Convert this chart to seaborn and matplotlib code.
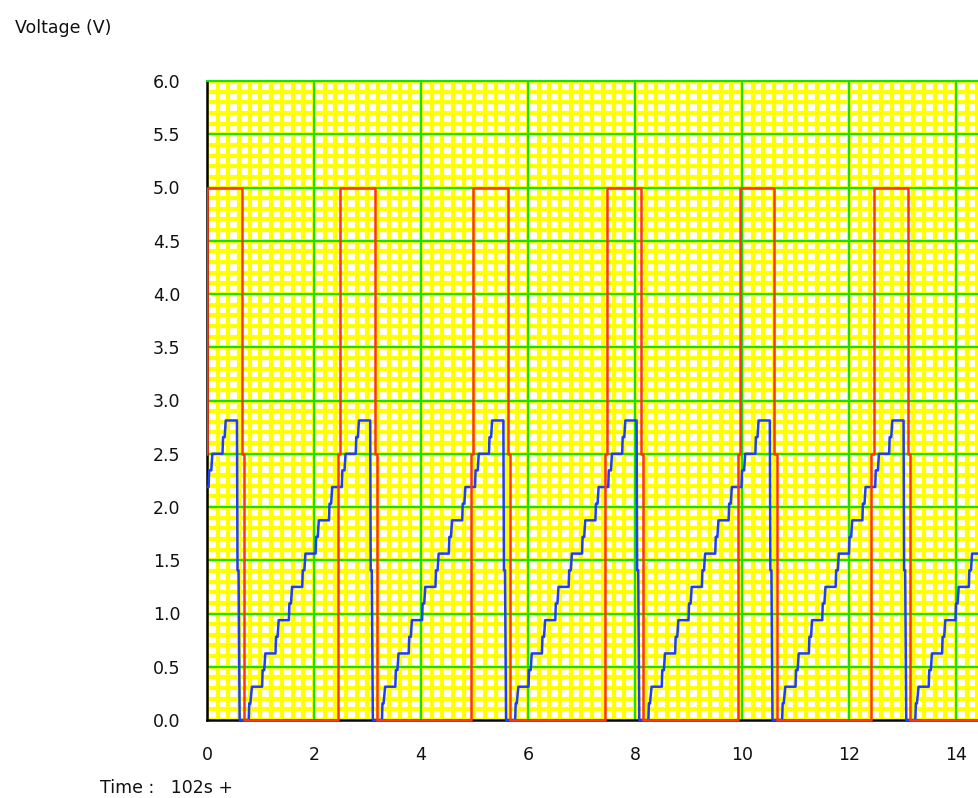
import pandas as pd
import matplotlib
matplotlib.use("Agg")
import matplotlib.pyplot as plt
import seaborn as sns
from matplotlib.patches import Rectangle
from matplotlib.ticker import MultipleLocator, FormatStrFormatter

# ==========================================
# DATOS
# ==========================================

# flancos de subida de la senal roja (s despues de 102 s)
red_rise = [0.0, 2.49, 4.98, 7.47, 9.96, 12.46]
# forma de un pulso rojo, relativa al flanco de subida
red_shape_t = [-0.04, -0.04, 0.0, 0.0, 0.645, 0.645, 0.685, 0.685]
red_shape_v = [0.0, 2.5, 2.5, 5.0, 5.0, 2.5, 2.5, 0.0]
t_end = 14.6

# rampa azul (DAC en escalones), relativa al flanco rojo del mismo ciclo
blue_cycles = [0.0, 2.49, 4.98, 7.47, 9.96, 12.46, 14.95]
blue_shape_t = [-1.71, -1.70, -1.68, -1.65, -1.46, -1.45, -1.42, -1.40,
                -1.21, -1.20, -1.17, -1.15, -0.96, -0.95, -0.92, -0.90,
                -0.71, -0.70, -0.67, -0.65, -0.46, -0.45, -0.42, -0.40,
                -0.21, -0.20, -0.17, -0.15, 0.03, 0.04, 0.08, 0.10,
                0.29, 0.30, 0.33, 0.35, 0.56, 0.57, 0.59, 0.61]
blue_shape_v = [0.0, 0.156, 0.156, 0.3125, 0.3125, 0.469, 0.469, 0.625,
                0.625, 0.781, 0.781, 0.9375, 0.9375, 1.094, 1.094, 1.25,
                1.25, 1.406, 1.406, 1.5625, 1.5625, 1.719, 1.719, 1.875,
                1.875, 2.031, 2.031, 2.1875, 2.1875, 2.344, 2.344, 2.5,
                2.5, 2.656, 2.656, 2.8125, 2.8125, 1.406, 1.406, 0.0]

# ==========================================
# ARMADO DE LAS SERIES
# ==========================================

rows = []
for t0 in red_rise:
    for dt, v in zip(red_shape_t, red_shape_v):
        rows.append((t0 + dt, v))
rows.append((t_end, 0.0))
df_red = pd.DataFrame(rows, columns=["t", "v"])

rows = []
for t0 in blue_cycles:
    for dt, v in zip(blue_shape_t, blue_shape_v):
        rows.append((t0 + dt, v))
df_blue = pd.DataFrame(rows, columns=["t", "v"])

# ==========================================
# GRAFICO
# ==========================================

sns.set_style("white")
plt.rcParams['font.family'] = ['DejaVu Sans']

fig = plt.figure(figsize=(9.79, 7.98), dpi=100)
ax = fig.add_axes([207 / 979, 1 - 720 / 798, 1 - 207 / 979, (720 - 81) / 798])

sns.lineplot(data=df_blue, x="t", y="v", ax=ax, sort=False, estimator=None,
             color="#1f3cff", linewidth=1.8, zorder=3)
sns.lineplot(data=df_red, x="t", y="v", ax=ax, sort=False, estimator=None,
             color="#ff3318", linewidth=1.8, zorder=3)

# dejar ver la linea en 0 completa sobre el eje inferior
for line in ax.lines:
    line.set_clip_path(Rectangle((0, -0.01), 1, 1.02, transform=ax.transAxes))

ax.set_xlim(0, 14.43)
ax.set_ylim(0, 6)
ax.xaxis.set_major_locator(MultipleLocator(2))
ax.xaxis.set_minor_locator(MultipleLocator(0.2))
ax.yaxis.set_major_locator(MultipleLocator(0.5))
ax.yaxis.set_minor_locator(MultipleLocator(0.1))
ax.yaxis.set_major_formatter(FormatStrFormatter('%.1f'))

# cuadricula fina amarilla debajo, la gruesa verde encima
ax.set_axisbelow(True)
ax.grid(which='minor', color='#ffff00', linewidth=3.0)
ax.grid(which='major', color='#ffff00', linewidth=3.0)
for x in ax.get_xticks():
    if 0 < x <= 14.43:
        ax.axvline(x, color='#14e014', linewidth=1.5, zorder=1)
for y in ax.get_yticks():
    if 0 < y <= 6:
        ax.axhline(y, color='#14e014', linewidth=1.5, zorder=1)

ax.spines['right'].set_visible(False)
ax.spines['top'].set_color('#14e014')
ax.spines['top'].set_linewidth(1.5)
for s in ['left', 'bottom']:
    ax.spines[s].set_color('black')
    ax.spines[s].set_linewidth(1.8)
    ax.spines[s].set_zorder(2)

ax.tick_params(which='both', length=0, labelsize=12.5, pad=19, colors='#111111')
ax.set_xlabel("")
ax.set_ylabel("")

fig.text(15 / 979, 1 - 28 / 798, "Voltage (V)", fontsize=12.5, va='center', ha='left', color='#111111')
fig.text(100 / 979, 1 - 788 / 798, "Time :   102s +", fontsize=12.5, va='center', ha='left', color='#111111')

plt.savefig("out.png", dpi=100)
plt.close()
